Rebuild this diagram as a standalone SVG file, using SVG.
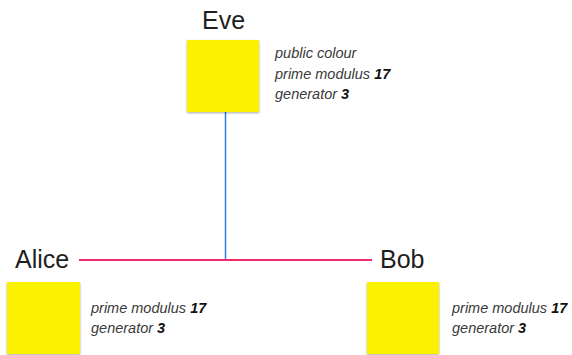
<svg xmlns="http://www.w3.org/2000/svg" width="572" height="355" viewBox="0 0 572 355">
  <style>
    .name { font-family: "Liberation Sans", Arial, sans-serif; font-size: 25px; fill: #1e1e1e; }
    .info { font-family: "Liberation Sans", Arial, sans-serif; font-size: 14.5px; font-style: italic; fill: #3a3a3a; }
    .info tspan.v { font-weight: bold; fill: #111111; }
    .box { fill: #FAF200; filter: url(#shadow); }
  </style>
  <defs>
    <filter id="shadow" x="-10%" y="-10%" width="120%" height="125%">
      <feDropShadow dx="0" dy="1" stdDeviation="0.8" flood-color="#000000" flood-opacity="0.35"/>
    </filter>
  </defs>

  <g id="connectors">
    <line x1="225.5" y1="112" x2="225.5" y2="260" stroke="#2C80E0" stroke-width="1.5"/>
    <line x1="79" y1="260" x2="372" y2="260" stroke="#F2296A" stroke-width="2"/>
  </g>

  <g id="eve">
    <text class="name" x="202" y="29">Eve</text>
    <rect class="box" x="187" y="40" width="72" height="72"/>
    <text class="info" x="275" y="58">public colour</text>
    <text class="info" x="275" y="79">prime modulus <tspan class="v">17</tspan></text>
    <text class="info" x="275" y="99">generator <tspan class="v">3</tspan></text>
  </g>

  <g id="alice">
    <text class="name" x="15" y="268">Alice</text>
    <rect class="box" x="7" y="282" width="73" height="72"/>
    <text class="info" x="91" y="313">prime modulus <tspan class="v">17</tspan></text>
    <text class="info" x="91" y="333">generator <tspan class="v">3</tspan></text>
  </g>

  <g id="bob">
    <text class="name" x="380" y="268">Bob</text>
    <rect class="box" x="367" y="282" width="72" height="72"/>
    <text class="info" x="452" y="313">prime modulus <tspan class="v">17</tspan></text>
    <text class="info" x="452" y="333">generator <tspan class="v">3</tspan></text>
  </g>
</svg>
